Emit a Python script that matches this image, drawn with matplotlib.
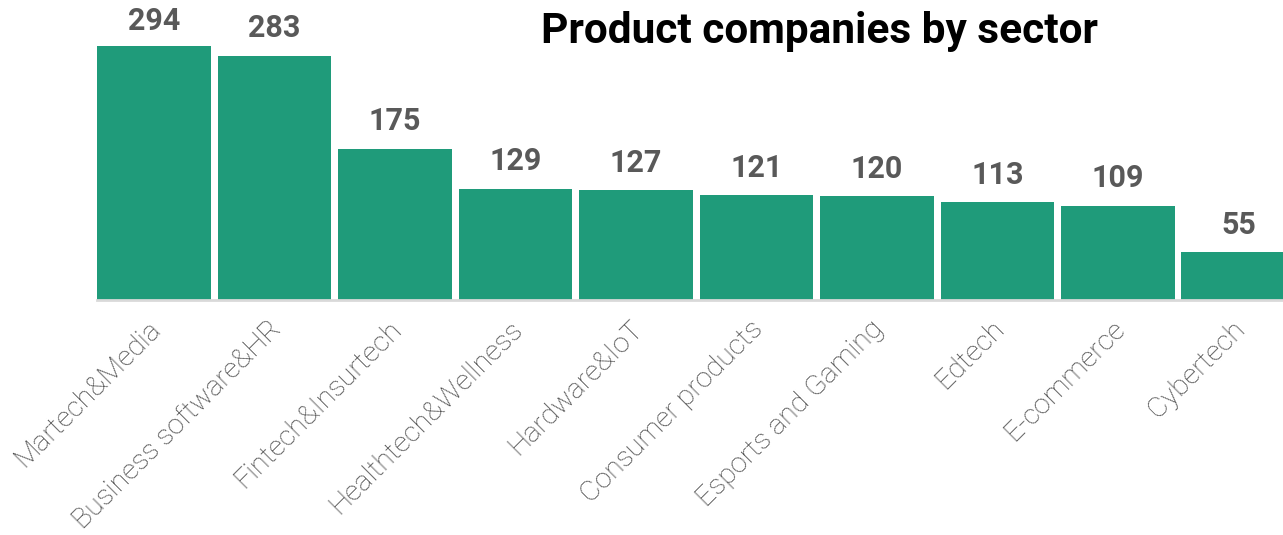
import matplotlib
matplotlib.use("Agg")
import matplotlib.pyplot as plt
from matplotlib.transforms import ScaledTranslation

sectors = ["Martech&Media", "Business software&HR", "Fintech&Insurtech",
           "Healthtech&Wellness", "Hardware&IoT", "Consumer products",
           "Esports and Gaming", "Edtech", "E-commerce", "Cybertech"]
companies = [294, 283, 175, 129, 127, 121, 120, 113, 109, 55]

BAR_COLOR = "#1f9b7a"
VALUE_GREY = "#595959"
TICK_GREY = "#454545"

plt.rcParams["font.family"] = ["Roboto", "DejaVu Sans"]

W, H = 1283, 535
fig = plt.figure(figsize=(W / 100, H / 100), dpi=100)

pitch = 120.5
left_px, base_px, top_px = 97, 300, 46
half = 0.473
x0 = -half
x1 = x0 + (W - left_px) / pitch
ax = fig.add_axes([left_px / W, 1 - base_px / H, 1 - left_px / W, (base_px - top_px) / H])

xs = list(range(len(sectors)))
ax.bar(xs, companies, width=2 * half, color=BAR_COLOR, zorder=2)
ax.set_xlim(x0, x1)
ax.set_ylim(0, max(companies))

value_labels = []
for x, v in zip(xs, companies):
    t = ax.annotate(f"{v}", (x, v), xytext=(0, 9), textcoords="offset points",
                    ha="center", va="bottom", fontsize=22, fontweight="bold",
                    color=VALUE_GREY, annotation_clip=False)
    value_labels.append(t)

for s in ["top", "right", "left"]:
    ax.spines[s].set_visible(False)
ax.spines["bottom"].set_color("#d9d9d9")
ax.spines["bottom"].set_linewidth(2)
ax.set_yticks([])
ax.set_xticks(xs)
ax.set_xticklabels(sectors, rotation=45, ha="right", va="top",
                   rotation_mode="anchor", fontsize=20.5, fontweight="light",
                   color=TICK_GREY)
ax.tick_params(axis="x", length=0, pad=11)
offset = ScaledTranslation(-5 / 72, 0, fig.dpi_scale_trans)
for lbl in ax.get_xticklabels():
    lbl.set_transform(lbl.get_transform() + offset)

fig.text(819 / W, 1 - 32 / H, "Product companies by sector", ha="center",
         va="center", fontsize=30.5, fontweight="bold", color="black")

# keep value labels inside the canvas: push any that would overflow downwards
fig.canvas.draw()
renderer = fig.canvas.get_renderer()
top_limit = H - 6
for t in value_labels:
    bb = t.get_window_extent(renderer)
    if bb.y1 > top_limit:
        dx, dy = t.xyann
        t.xyann = (dx, dy - (bb.y1 - top_limit) * 72 / fig.dpi)

fig.savefig("out.png", dpi=100)
